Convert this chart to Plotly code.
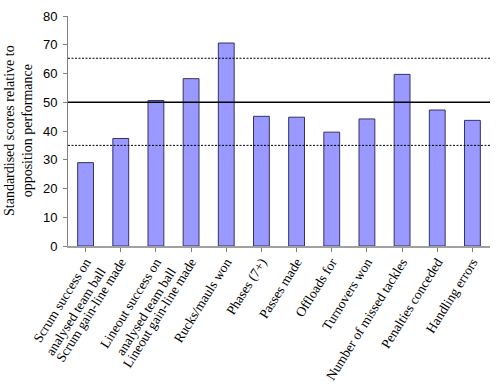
import plotly.graph_objects as go

categories = [
    "Scrum success on<br>analysed team ball",
    "Scrum gain-line made",
    "Lineout success on<br>analysed team ball",
    "Lineout gain-line made",
    "Rucks/mauls won",
    "Phases (7+)",
    "Passes made",
    "Offloads for",
    "Turnovers won",
    "Number of missed tackles",
    "Penalties conceded",
    "Handling errors",
]
scores = [29, 37.4, 50.6, 58.2, 70.6, 45.1, 44.8, 39.6, 44.2, 59.7, 47.3, 43.7]
mean_line = 50
upper_line = 65.3
lower_line = 35
y_ticks = [0, 10, 20, 30, 40, 50, 60, 70, 80]
y_title = "Standardised scores relative to<br>opposition performance"

SERIF = "Liberation Serif"
SANS = "Liberation Sans"

fig = go.Figure()
fig.add_trace(go.Bar(
    x=categories, y=scores,
    marker=dict(color="#9999FF", line=dict(color="#333366", width=1)),
    width=0.45,
))
fig.add_hline(y=mean_line, line=dict(color="black", width=1.5))
fig.add_hline(y=upper_line, line=dict(color="black", width=1, dash="2px,1.5px"))
fig.add_hline(y=lower_line, line=dict(color="black", width=1, dash="2px,1.5px"))

fig.add_annotation(
    text=y_title, xref="paper", yref="paper", x=0, y=0.5,
    xanchor="center", yanchor="middle", xshift=-50, textangle=-90,
    showarrow=False, align="center",
    font=dict(family=SERIF, size=14, color="black"),
)

fig.update_layout(
    width=497, height=387,
    margin=dict(l=68, r=7, t=16, b=141),
    plot_bgcolor="white", paper_bgcolor="white",
    showlegend=False,
)
fig.update_yaxes(
    range=[0, 80], tickvals=y_ticks, showgrid=False, automargin=False,
    showline=True, linecolor="#808080", linewidth=1,
    ticks="outside", ticklen=4, tickcolor="#808080",
    ticklabelstandoff=3,
    tickfont=dict(family=SANS, size=13, color="black"),
)
fig.update_xaxes(
    showgrid=False, automargin=False, showline=True, linecolor="#A0A0A0", linewidth=2,
    ticks="outside", ticklen=4, tickcolor="#808080",
    tickangle=-58, ticklabelstandoff=-3,
    tickfont=dict(family=SERIF, size=13.5, color="black"),
)
fig.write_html("out.html", config={"displayModeBar": False},
               post_script="document.body.style.margin='0';")
